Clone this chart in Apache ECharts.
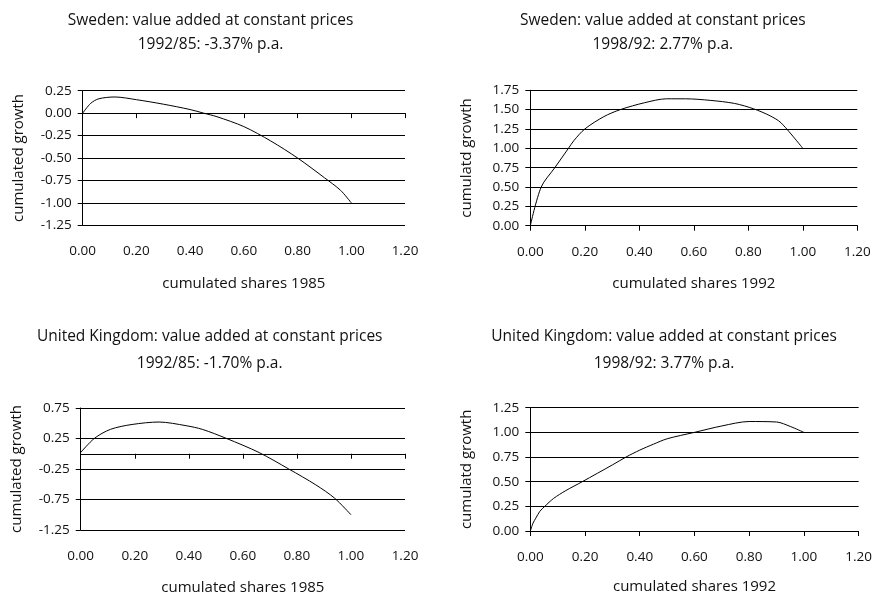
<!DOCTYPE html>
<html>
<head>
<meta charset="utf-8">
<script src="https://cdn.jsdelivr.net/npm/echarts@6/dist/echarts.min.js"></script>
<style>
  html, body { margin: 0; padding: 0; background: #fff; }
  #chart { width: 875px; height: 596px; }
</style>
</head>
<body>
<div id="chart"></div>
<script>
// ---- Data ----
const titles1 = ['Sweden: value added at constant prices', '1992/85: -3.37% p.a.'];
const titles2 = ['Sweden: value added at constant prices', '1998/92: 2.77% p.a.'];
const titles3 = ['United Kingdom: value added at constant prices', '1992/85: -1.70% p.a.'];
const titles4 = ['United Kingdom: value added at constant prices', '1998/92: 3.77% p.a.'];

const xNames = ['cumulated shares 1985', 'cumulated shares 1992', 'cumulated shares 1985', 'cumulated shares 1992'];
const yNames = ['cumulated growth', 'cumulatd growth', 'cumulated growth', 'cumulatd growth'];

const xTicks = [0, 0.2, 0.4, 0.6, 0.8, 1.0, 1.2];
const yTicks1 = [-1.25, -1.0, -0.75, -0.5, -0.25, 0, 0.25];
const yTicks2 = [0, 0.25, 0.5, 0.75, 1.0, 1.25, 1.5, 1.75];
const yTicks3 = [-1.25, -0.75, -0.25, 0.25, 0.75];
const yTicks4 = [0, 0.25, 0.5, 0.75, 1.0, 1.25];

// Sweden 1992/85
const sweX1 = [0, 0.03, 0.06, 0.12, 0.2, 0.3, 0.4, 0.45, 0.5, 0.6, 0.7, 0.8, 0.9, 0.96, 1.0];
const sweY1 = [0, 0.11, 0.16, 0.18, 0.15, 0.10, 0.04, 0.0, -0.04, -0.15, -0.31, -0.50, -0.72, -0.86, -1.0];
// Sweden 1998/92
const sweX2 = [0, 0.04, 0.09, 0.14, 0.16, 0.2, 0.27, 0.33, 0.42, 0.5, 0.57, 0.66, 0.75, 0.82, 0.88, 0.92, 1.0];
const sweY2 = [0, 0.50, 0.75, 1.0, 1.10, 1.25, 1.41, 1.50, 1.59, 1.64, 1.64, 1.62, 1.58, 1.51, 1.42, 1.33, 1.0];
// United Kingdom 1992/85
const ukX1 = [0, 0.05, 0.11, 0.19, 0.29, 0.39, 0.45, 0.54, 0.66, 0.77, 0.87, 0.94, 1.0];
const ukY1 = [0.02, 0.25, 0.40, 0.48, 0.52, 0.46, 0.40, 0.25, 0.02, -0.25, -0.51, -0.73, -1.0];
// United Kingdom 1998/92
const ukX2 = [0, 0.01, 0.02, 0.035, 0.053, 0.085, 0.13, 0.19, 0.3, 0.35, 0.4, 0.45, 0.5, 0.6, 0.7, 0.8, 0.9, 0.95, 1.0];
const ukY2 = [0, 0.08, 0.13, 0.20, 0.25, 0.33, 0.41, 0.50, 0.67, 0.75, 0.82, 0.88, 0.935, 1.0, 1.065, 1.11, 1.105, 1.06, 1.0];

// ---- Layout ----
const FONT = 'Open Sans';
const FS_TITLE = 15.5;
const FS_NAME = 15;
const FS_TICK = 13.5;
const panels = [
  { grid: { left: 82.7, top: 90.7, width: 322.3, height: 134.6 }, ticks: yTicks1, titles: titles1, cx: 210.5, t1: 11, t2: 35, xs: sweX1, ys: sweY1, xGap: 51 },
  { grid: { left: 530.3, top: 90.3, width: 327, height: 135.4 }, ticks: yTicks2, titles: titles2, cx: 662.8, t1: 11, t2: 35, xs: sweX2, ys: sweY2, xGap: 51 },
  { grid: { left: 80.7, top: 408, width: 324.3, height: 124.3 }, ticks: yTicks3, titles: titles3, cx: 209.7, t1: 327, t2: 354, xs: ukX1, ys: ukY1, xGap: 50 },
  { grid: { left: 530.3, top: 407.7, width: 329, height: 123.3 }, ticks: yTicks4, titles: titles4, cx: 664, t1: 327, t2: 354, xs: ukX2, ys: ukY2, xGap: 48 }
];

const textStyle = { fontFamily: FONT, fontSize: FS_TICK, color: '#111' };
const option = {
  animation: false,
  backgroundColor: '#fff',
  textStyle: textStyle,
  title: [],
  grid: [],
  xAxis: [],
  yAxis: [],
  series: []
};

panels.forEach((p, i) => {
  option.grid.push(Object.assign({ containLabel: false }, p.grid));
  const ts = { fontFamily: FONT, fontSize: FS_TITLE, color: '#111', fontWeight: 'normal', lineHeight: 20 };
  option.title.push({ text: p.titles[0], left: p.cx, top: p.t1, textAlign: 'center', padding: 0, textStyle: ts });
  option.title.push({ text: p.titles[1], left: p.cx, top: p.t2, textAlign: 'center', padding: 0, textStyle: ts });

  const ymin = p.ticks[0], ymax = p.ticks[p.ticks.length - 1];
  // axis line at zero with ticks
  option.xAxis.push({
    type: 'value', gridIndex: i, min: 0, max: 1.2,
    axisLabel: { show: false, customValues: xTicks },
    axisTick: { show: true, length: 5, customValues: xTicks, lineStyle: { color: '#000', width: 1 } },
    axisLine: { show: true, onZero: true, lineStyle: { color: '#000', width: 1 } },
    splitLine: { show: false }
  });
  // labels + name at the bottom
  option.xAxis.push({
    type: 'value', gridIndex: i, min: 0, max: 1.2, position: 'bottom',
    axisLine: { show: false, onZero: false },
    axisTick: { show: false },
    splitLine: { show: false },
    axisLabel: { customValues: xTicks, margin: 19, fontFamily: FONT, fontSize: FS_TICK, color: '#111',
      formatter: v => v.toFixed(2) },
    name: xNames[i], nameLocation: 'middle', nameGap: p.xGap,
    nameTextStyle: { fontFamily: FONT, fontSize: FS_NAME, color: '#111' }
  });
  option.yAxis.push({
    type: 'value', gridIndex: i, min: ymin, max: ymax,
    axisLine: { show: true, onZero: false, lineStyle: { color: '#000', width: 1 } },
    axisTick: { show: true, length: 5, customValues: p.ticks, lineStyle: { color: '#000', width: 1 } },
    axisLabel: { customValues: p.ticks, margin: 11, fontFamily: FONT, fontSize: FS_TICK, color: '#111',
      formatter: v => v.toFixed(2) },
    splitLine: { show: true, lineStyle: { color: '#000', width: 1 } },
    name: yNames[i], nameLocation: 'middle', nameGap: 56,
    nameTextStyle: { fontFamily: FONT, fontSize: FS_NAME, color: '#111' }
  });
  option.series.push({
    type: 'line', xAxisIndex: 2 * i, yAxisIndex: i,
    data: p.xs.map((x, k) => [x, p.ys[k]]),
    showSymbol: false, smooth: 0.3,
    lineStyle: { color: '#000', width: 1 }
  });
});

const chart = echarts.init(document.getElementById('chart'), null, { renderer: 'canvas' });
chart.setOption(option);
</script>
</body>
</html>
